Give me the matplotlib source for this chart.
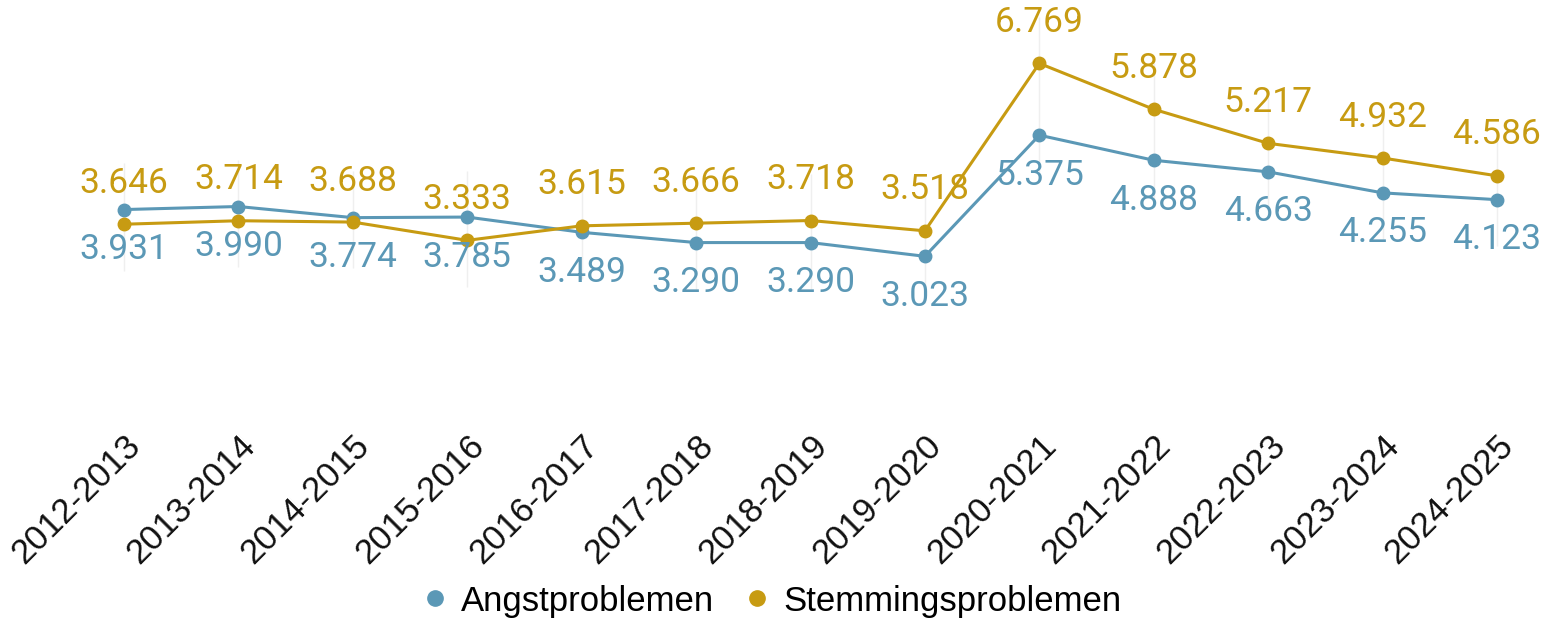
import numpy as np
import matplotlib
matplotlib.use("Agg")
import matplotlib.pyplot as plt
from matplotlib.lines import Line2D

years = ["2012-2013", "2013-2014", "2014-2015", "2015-2016", "2016-2017",
         "2017-2018", "2018-2019", "2019-2020", "2020-2021", "2021-2022",
         "2022-2023", "2023-2024", "2024-2025"]
angst = [3.931, 3.990, 3.774, 3.785, 3.489, 3.290, 3.290, 3.023, 5.375,
         4.888, 4.663, 4.255, 4.123]
stemming = [3.646, 3.714, 3.688, 3.333, 3.615, 3.666, 3.718, 3.518, 6.769,
            5.878, 5.217, 4.932, 4.586]

BLUE = '#5b98b6'
GOLD = '#c79b12'


def fmt(v):
    return f"{v:.3f}"


def main():
    fig = plt.figure(figsize=(15.46, 6.18), dpi=100)
    # axes placed so that points land where the reference has them
    ax = fig.add_axes([60 / 1546, 206 / 618, 1480 / 1546, 412 / 618])
    x = np.arange(len(years))

    lo = np.minimum(angst, stemming)
    hi = np.maximum(angst, stemming)
    ax.vlines(x, lo - 0.9, hi + 0.9, color='#efefef', lw=1, zorder=0)

    ax.plot(x, angst, color=BLUE, lw=2.2, marker='o', ms=9, zorder=3)
    ax.plot(x, stemming, color=GOLD, lw=2.2, marker='o', ms=9, zorder=3)

    for xi, v in zip(x, stemming):
        ax.annotate(fmt(v), (xi, v), xytext=(0, 41), textcoords='offset pixels',
                    ha='center', va='center', color=GOLD, fontsize=25.5,
                    family='Roboto')
    for xi, v in zip(x, angst):
        ax.annotate(fmt(v), (xi, v), xytext=(0, -40), textcoords='offset pixels',
                    ha='center', va='center', color=BLUE, fontsize=25.5,
                    family='Roboto')

    ax.set_xlim(-(124 - 60) / 114.4, 12 + (1540 - 1497) / 114.4)
    ax.set_ylim(0, 8)
    ax.set_xticks(x)
    ax.set_xticklabels(years, rotation=45, ha='right', va='top',
                       rotation_mode='anchor', fontsize=25,
                       family='Liberation Sans', color='#111111')
    ax.tick_params(axis='x', length=0, pad=12)
    ax.set_yticks([])
    for s in ax.spines.values():
        s.set_visible(False)

    handles = [Line2D([], [], ls='none', marker='o', ms=11, color=BLUE),
               Line2D([], [], ls='none', marker='o', ms=11, color=GOLD)]
    fig.legend(handles, ['Angstproblemen', 'Stemmingsproblemen'],
               loc='lower center', bbox_to_anchor=(0.5, -0.05), ncol=2,
               frameon=False, handlelength=0.6, handletextpad=0.45,
               columnspacing=0.95,
               prop={'family': 'Liberation Sans', 'size': 25})

    fig.savefig('out.png', dpi=100)


if __name__ == "__main__":
    main()
